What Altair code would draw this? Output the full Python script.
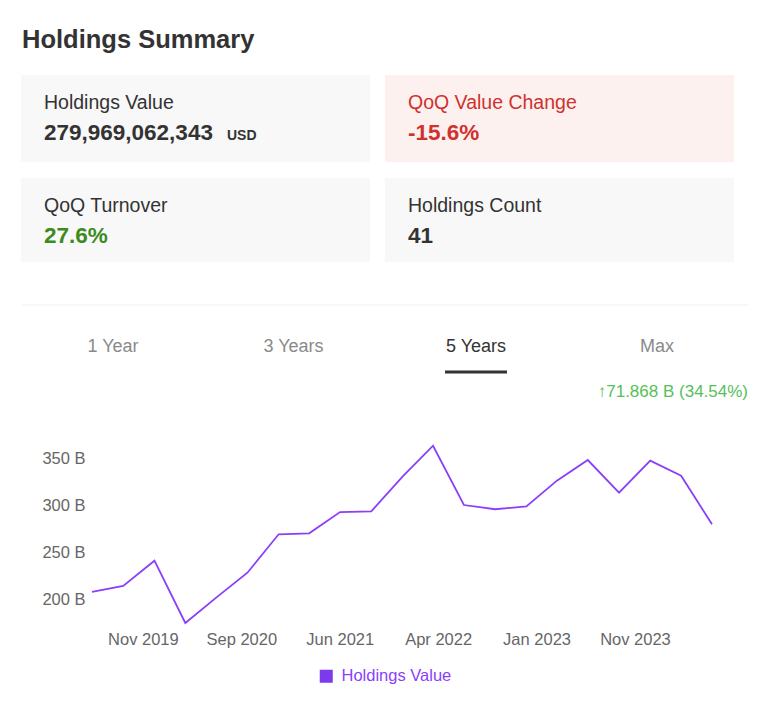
import altair as alt
import pandas as pd

# ---------------- data ----------------
quarter_ends = ["2019-06-30", "2019-09-30", "2019-12-31", "2020-03-31", "2020-06-30",
                "2020-09-30", "2020-12-31", "2021-03-31", "2021-06-30", "2021-09-30",
                "2021-12-31", "2022-03-31", "2022-06-30", "2022-09-30", "2022-12-31",
                "2023-03-31", "2023-06-30", "2023-09-30", "2023-12-31", "2024-03-31",
                "2024-06-30"]
holdings_b = [208.1, 214.4, 241.3, 175.0, 202.0, 228.5, 269.4, 270.4, 293.0, 293.8,
              330.6, 363.6, 300.5, 296.0, 299.1, 326.4, 348.4, 313.6, 347.7, 331.7,
              280.0]
series_name = "Holdings Value"
y_ticks = [200, 250, 300, 350]
x_tick_dates = [(2019, 11, 27), (2020, 9, 12), (2021, 6, 29), (2022, 4, 15),
                (2023, 1, 30), (2023, 11, 16)]

title_text = "Holdings Summary"
card_labels = ["Holdings Value", "QoQ Value Change", "QoQ Turnover", "Holdings Count"]
card_values = ["279,969,062,343", "-15.6%", "27.6%", "41"]
value_unit = "USD"
tabs = ["1 Year", "3 Years", "5 Years", "Max"]
active_tab = "5 Years"
change_text = "\u219171.868 B (34.54%)"

# ---------------- layout / style ----------------
FONT = "Liberation Sans"
OX, OY = 92, 8  # absolute page position of plot origin
W, H = 620, 620

def T(text, x, y, size, color, weight="normal", align="left"):
    return alt.Chart(pd.DataFrame({"t": [text]})).mark_text(
        align=align, baseline="alphabetic", fontSize=size, fontWeight=weight,
        color=color, font=FONT
    ).encode(x=alt.value(x - OX), y=alt.value(y - OY), text="t:N")

def R(x1, x2, y1, y2, color):
    return alt.Chart(pd.DataFrame({"k": [0]})).mark_rect(color=color).encode(
        x=alt.value(x1 - OX), x2=alt.value(x2 - OX),
        y=alt.value(y1 - OY), y2=alt.value(y2 - OY))

layers = []
layers.append(T(title_text, 22, 48, 25.5, "#333333", "bold"))

card_boxes = [(21, 370, 75, 162), (385, 734, 75, 162), (21, 370, 178, 262), (385, 734, 178, 262)]
card_bg = ["#f8f8f8", "#fdf1f0", "#f8f8f8", "#f8f8f8"]
label_colors = ["#333333", "#d0322d", "#333333", "#333333"]
value_colors = ["#333333", "#d0322d", "#3d8a22", "#333333"]
for i, (x1, x2, y1, y2) in enumerate(card_boxes):
    layers.append(R(x1, x2, y1, y2, card_bg[i]))
    layers.append(T(card_labels[i], x1 + 23, y1 + 34, 19.5, label_colors[i]))
    layers.append(T(card_values[i], x1 + 23, y1 + 65, 22.5, value_colors[i], "bold"))
layers.append(T(value_unit, 227, 140, 14, "#333333", "bold"))

# divider
layers.append(alt.Chart(pd.DataFrame({"k": [0]})).mark_rule(color="#efefef", strokeWidth=1).encode(
    x=alt.value(22 - OX), x2=alt.value(748 - OX), y=alt.value(305 - OY)))

tab_centers = [113, 293.5, 476, 657]
for name, cx in zip(tabs, tab_centers):
    layers.append(T(name, cx, 352, 18, "#333333" if name == active_tab else "#8a8a8a", align="center"))
layers.append(R(445, 507, 370.5, 373.5, "#333333"))
layers.append(T(change_text, 748, 397, 17, "#55c05a", align="right"))

# ---------------- line chart ----------------
df = pd.DataFrame({"date": quarter_ends, "value": holdings_b, "series": series_name})
line = alt.Chart(df).mark_line(strokeWidth=1.8).encode(
    x=alt.X("date:T", title=None,
            scale=alt.Scale(nice=False),
            axis=alt.Axis(values=[alt.DateTime(year=y, month=m, date=d) for (y, m, d) in x_tick_dates],
                          format="%b %Y", labelPadding=3, labelFontSize=16.5,
                          labelColor="#666666", labelFont=FONT, domain=False, ticks=False,
                          grid=False, labelFlush=False, labelOverlap=False)),
    y=alt.Y("value:Q", title=None,
            scale=alt.Scale(domain=[150, 400], range=[638.5, 403.5], nice=False, zero=False),
            axis=alt.Axis(values=y_ticks, labelExpr="datum.value + ' B'", labelPadding=7,
                          labelFontSize=16.5, labelColor="#666666", labelFont=FONT,
                          domain=False, ticks=False, grid=False)),
    color=alt.Color("series:N", scale=alt.Scale(range=["#8b3ff8"]),
                    legend=alt.Legend(title=None, orient="none", legendX=318 - OX, legendY=668 - OY,
                                      symbolType="square", symbolSize=169,
                                      symbolFillColor="#7c3aed", symbolStrokeColor="#7c3aed",
                                      symbolStrokeWidth=0, labelFontSize=16.5,
                                      labelColor="#8a3ffc", labelFont=FONT, labelOffset=7,
                                      padding=0)),
)
layers.append(line)

chart = alt.layer(*layers).properties(
    width=W, height=H,
    padding={"left": 84, "top": 0, "right": 40, "bottom": 70},
    autosize=alt.AutoSizeParams(type="none"),
).configure_view(stroke=None)

chart.save("out.html", embed_options={"renderer": "svg", "actions": False})
